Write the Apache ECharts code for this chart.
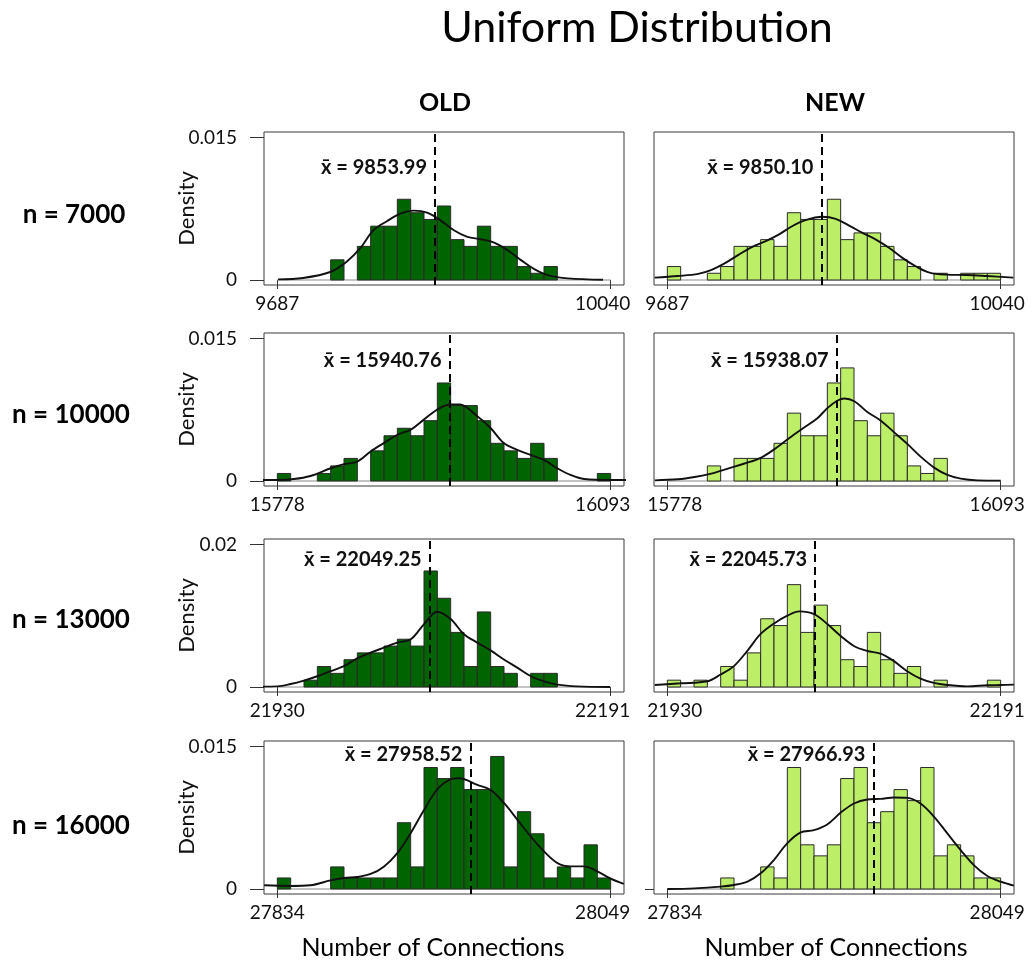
<!DOCTYPE html>
<html><head><meta charset="utf-8">
<script src="https://cdn.jsdelivr.net/npm/echarts@6/dist/echarts.min.js"></script>
<style>html,body{margin:0;padding:0;background:#fff}#c{width:1034px;height:967px}</style>
</head><body><div id="c"></div>
<script>
// ---------------- DATA ----------------
const chartTitle = 'Uniform Distribution';
const rowLabels = ['n = 7000', 'n = 10000', 'n = 13000', 'n = 16000'];
const colLabels = ['OLD', 'NEW'];
const xMinTicks = [9687, 15778, 21930, 27834];
const xMaxTicks = [10040, 16093, 22191, 28049];
const yTicks = [0.015, 0.015, 0.02, 0.015];
const sampleSize = 100;
const binCount = 25;

const oldCounts7000  = [0,0,0,0,3,0,5,8,8,12,10,9,11,6,5,8,5,5,2,1,2,0,0,0,0];
const newCounts7000  = [2,0,0,1,2,5,5,6,5,10,9,9,12,6,7,7,5,3,2,0,1,0,1,1,1];
const oldCounts10000 = [1,0,0,1,2,3,0,4,6,7,6,8,13,10,10,8,5,4,3,5,3,0,0,0,1];
const newCounts10000 = [0,0,0,2,0,3,3,3,5,9,6,6,13,15,8,6,9,6,2,1,3,0,0,0,0];
const oldCounts13000 = [0,0,1,3,2,4,5,5,6,7,6,17,13,8,3,11,3,2,0,2,2,0,0,0,0];
const newCounts13000 = [1,0,1,0,3,1,5,10,9,15,8,12,9,4,3,8,4,2,3,0,1,0,0,0,1];
const oldCounts16000 = [1,0,0,0,2,1,1,1,1,6,2,11,10,11,9,9,12,2,7,5,1,2,1,4,1];
const newCounts16000 = [0,0,0,0,1,0,0,2,1,11,4,3,4,10,11,6,7,9,8,11,3,4,3,1,1];

const oldMeans = [9853.99, 15940.76, 22049.25, 27958.52];
const newMeans = [9850.10, 15938.07, 22045.73, 27966.93];

const oldCurve7000 = [[9687.7,0.00007],[9714.3,0.00021],[9743.8,0.00087],[9760.4,0.00192],[9774.6,0.00332],[9788.8,0.00524],[9803.0,0.00618],[9817.2,0.00698],[9831.4,0.00730],[9845.6,0.00709],[9859.8,0.00628],[9874.0,0.00524],[9888.2,0.00454],[9902.4,0.00429],[9916.6,0.00394],[9930.8,0.00314],[9945.0,0.00209],[9959.1,0.00115],[9973.3,0.00052],[9994.6,0.00017],[10031.9,0.00003]];
const newCurve7000 = [[9673.5,0.00025],[9698.4,0.00042],[9719.7,0.00064],[9733.9,0.00106],[9748.1,0.00177],[9762.3,0.00265],[9776.5,0.00347],[9790.7,0.00407],[9804.9,0.00478],[9819.1,0.00566],[9833.3,0.00630],[9851.1,0.00666],[9865.3,0.00644],[9879.5,0.00573],[9893.7,0.00496],[9907.9,0.00425],[9922.1,0.00336],[9936.3,0.00230],[9950.5,0.00142],[9964.7,0.00078],[9982.4,0.00057],[10003.7,0.00053],[10025.1,0.00042],[10053.5,0.00025]];
const oldCurve10000 = [[15762.3,0.00011],[15778,0.00011],[15793.7,0.00021],[15809.3,0.00053],[15828.5,0.00134],[15841.0,0.00177],[15853.5,0.00205],[15866.1,0.00311],[15878.6,0.00399],[15891.5,0.00487],[15904.0,0.00540],[15916.5,0.00646],[15929.1,0.00752],[15941.6,0.00805],[15950.4,0.00805],[15967.0,0.00681],[15979.5,0.00558],[15992.0,0.00399],[16004.6,0.00328],[16017.1,0.00275],[16030.0,0.00222],[16042.5,0.00134],[16055.0,0.00064],[16067.9,0.00021],[16093,0.00011],[16110.2,0.00011]];
const newCurve10000 = [[15766.1,0.00007],[15788.1,0.00018],[15803.8,0.00042],[15819.5,0.00078],[15835.2,0.00131],[15850.9,0.00184],[15866.7,0.00247],[15882.4,0.00360],[15895.0,0.00466],[15907.6,0.00565],[15920.1,0.00664],[15929.5,0.00770],[15939.0,0.00847],[15945.3,0.00868],[15954.7,0.00840],[15967.3,0.00724],[15979.8,0.00635],[15992.4,0.00512],[16005.0,0.00388],[16017.6,0.00254],[16030.1,0.00141],[16042.7,0.00064],[16055.3,0.00025],[16071.0,0.00007],[16093,0.00004]];
const oldCurve13000 = [[21917.0,0.00005],[21930,0.00009],[21940.4,0.00042],[21950.8,0.00090],[21961.3,0.00151],[21971.7,0.00222],[21982.1,0.00293],[21992.5,0.00401],[22002.9,0.00481],[22013.4,0.00552],[22024.0,0.00623],[22034.5,0.00670],[22044.9,0.00883],[22055.3,0.01057],[22065.7,0.00953],[22076.1,0.00741],[22086.6,0.00623],[22097.0,0.00514],[22107.4,0.00387],[22118.1,0.00269],[22128.5,0.00151],[22138.9,0.00080],[22149.6,0.00033],[22164.5,0.00009],[22190.5,0.00000]];
const newCurve13000 = [[21920.1,0.00028],[21940.4,0.00052],[21961.3,0.00080],[21971.7,0.00175],[21982.1,0.00293],[21992.5,0.00505],[22002.9,0.00741],[22013.6,0.00892],[22024.0,0.01001],[22033.4,0.01062],[22044.9,0.01024],[22055.3,0.00883],[22065.7,0.00717],[22076.1,0.00576],[22086.6,0.00505],[22097.0,0.00467],[22107.4,0.00363],[22117.8,0.00222],[22128.2,0.00118],[22138.7,0.00057],[22149.1,0.00028],[22164.7,0.00009],[22180.6,0.00024],[22191,0.00028],[22201.4,0.00033]];
const oldCurve16000 = [[27825.5,0.00039],[27842.5,0.00032],[27855.3,0.00039],[27868.3,0.00091],[27877.1,0.00116],[27885.6,0.00126],[27894.2,0.00158],[27902.9,0.00238],[27911.4,0.00378],[27920.0,0.00588],[27928.7,0.00833],[27937.2,0.01050],[27945.8,0.01155],[27951.3,0.01166],[27963.0,0.01096],[27971.6,0.01043],[27980.3,0.00903],[27988.9,0.00728],[27997.4,0.00553],[28006.0,0.00396],[28014.7,0.00273],[28023.2,0.00238],[28031.7,0.00238],[28040.3,0.00186],[28049.0,0.00109],[28057.5,0.00053]];
const newCurve16000 = [[27834,0.0],[27851.5,0.00007],[27868.4,0.00025],[27876.9,0.00042],[27885.7,0.00077],[27894.2,0.00165],[27902.7,0.00305],[27911.3,0.00480],[27920.0,0.00595],[27928.6,0.00620],[27937.1,0.00679],[27945.9,0.00805],[27954.4,0.00900],[27963.0,0.00942],[27971.5,0.00949],[27980.2,0.00963],[27988.8,0.00959],[27997.3,0.00900],[28006.1,0.00760],[28014.6,0.00585],[28023.2,0.00410],[28031.7,0.00252],[28040.2,0.00140],[28049.0,0.00077],[28057.5,0.00035]];

const oldCounts = [oldCounts7000, oldCounts10000, oldCounts13000, oldCounts16000];
const newCounts = [newCounts7000, newCounts10000, newCounts13000, newCounts16000];
const oldCurves = [oldCurve7000, oldCurve10000, oldCurve13000, oldCurve16000];
const newCurves = [newCurve7000, newCurve10000, newCurve13000, newCurve16000];

// ---------------- LAYOUT ----------------
const FONT = 'Lato';
const colLeft = [264, 654];
const boxW = 360;
const rowTop = [132, 333, 539, 741];
const boxH = 153;
const zeroFromTop = 148;     // px from box top to density 0
const tickPx = 142.5;        // px from 0 to the labelled tick
const labelYs = [0.0118, 0.0127, 0.0179, 0.0142]; // mean label height in data units
const colors = ['#006400', '#BCEE68'];
// horizontal nudges of end labels (R keeps them inside the figure region)
const maxLabelPad = [16, 7];   // right padding for the right-hand label, OLD / NEW

const grids = [], xAxes = [], yAxes = [], series = [];
let idx = 0;
for (let r = 0; r < 4; r++) {
  const xmin = xMinTicks[r], xmax = xMaxTicks[r];
  const span = xmax - xmin;
  const binW = span / binCount;
  const perPx = yTicks[r] / tickPx;
  const yMin = -(boxH - zeroFromTop) * perPx;
  const yMax = zeroFromTop * perPx;
  for (let c = 0; c < 2; c++) {
    const isOld = c === 0;
    const leftPad = (!isOld && String(xmin).length > 4) ? 15 : 0;
    grids.push({left: colLeft[c], top: rowTop[r], width: boxW, height: boxH, show: true,
      borderColor: '#3a3a3a', borderWidth: 1, backgroundColor: 'transparent', containLabel: false});
    xAxes.push({type: 'value', gridIndex: idx, min: xmin - 0.04 * span, max: xmax + 0.04 * span,
      axisLine: {show: false}, splitLine: {show: false},
      axisTick: {show: true, customValues: [xmin, xmax], length: 9, lineStyle: {color: '#333'}},
      axisLabel: {show: true, customValues: [xmin, xmax], margin: 9, fontSize: 19, fontFamily: FONT, color: '#111',
        formatter: v => (v === xmax ? '{r|' + v + '}' : (leftPad ? '{l|' + v + '}' : String(v))),
        rich: {
          r: {fontSize: 19, fontFamily: FONT, color: '#111', padding: [0, maxLabelPad[c], 0, 0]},
          l: {fontSize: 19, fontFamily: FONT, color: '#111', padding: [0, 0, 0, leftPad]}
        }}});
    yAxes.push({type: 'value', gridIndex: idx, min: yMin, max: yMax,
      axisLine: {show: false}, splitLine: {show: false},
      axisTick: {show: isOld || r === 3, customValues: isOld ? [0, yTicks[r]] : [0], length: isOld ? 14 : 9, lineStyle: {color: '#333'}},
      axisLabel: {show: isOld, customValues: [0, yTicks[r]], margin: 27, fontSize: 19, fontFamily: FONT, color: '#111',
        formatter: v => String(v)},
      name: isOld ? 'Density' : '', nameLocation: 'middle', nameGap: 66, nameMoveOverlap: false,
      nameTextStyle: {fontSize: 22, fontFamily: FONT, color: '#111'}});
    const counts = isOld ? oldCounts[r] : newCounts[r];
    const densPerCount = 1 / (sampleSize * binW);
    const bars = [];
    counts.forEach((n, i) => { if (n > 0) bars.push([xmin + i * binW, xmin + (i + 1) * binW, n * densPerCount]); });
    const fill = colors[c];
    series.push({type: 'custom', xAxisIndex: idx, yAxisIndex: idx, z: 2, data: bars,
      encode: {x: [0, 1], y: 2},
      renderItem: (params, api) => {
        const p0 = api.coord([api.value(0), api.value(2)]);
        const p1 = api.coord([api.value(1), 0]);
        return {type: 'rect', shape: {x: p0[0], y: p0[1], width: p1[0] - p0[0], height: p1[1] - p0[1]},
          style: {fill: fill, stroke: '#2a2a2a', lineWidth: 1}};
      }});
    series.push({type: 'line', xAxisIndex: idx, yAxisIndex: idx, z: 1, symbol: 'none', silent: true,
      data: [[xmin, 0], [xmax, 0]], lineStyle: {color: '#8a8a8a', width: 1}});
    const mean = isOld ? oldMeans[r] : newMeans[r];
    series.push({type: 'line', xAxisIndex: idx, yAxisIndex: idx, z: 4, symbol: 'none', smooth: 0.35, clip: true,
      data: isOld ? oldCurves[r] : newCurves[r], lineStyle: {color: '#111', width: 1.9},
      markLine: {silent: true, symbol: 'none', animation: false,
        lineStyle: {type: [8, 5], color: '#000', width: 2}, label: {show: false},
        data: [{xAxis: mean}]},
      markPoint: {silent: true, animation: false, symbol: 'circle', symbolSize: 0,
        data: [{coord: [mean, labelYs[r]]}],
        label: {show: true, position: 'left', distance: 8, color: '#111', fontFamily: FONT, fontWeight: 'bold', fontSize: 20,
          formatter: () => 'x\u0304 = ' + mean.toFixed(2)}}});
    idx++;
  }
}

const txt = (text, x, y, size, weight) => ({type: 'text', x: x, y: y, silent: true,
  style: {text: text, fontSize: size, fontFamily: FONT, fontWeight: weight || 'normal', fill: '#000', align: 'center', verticalAlign: 'middle'}});
const graphic = [
  txt(chartTitle, 637, 28, 43),
  txt(colLabels[0], 445, 103, 25, 'bold'),
  txt(colLabels[1], 835, 103, 25, 'bold'),
  txt(rowLabels[0], 74, 215, 26, 'bold'),
  txt(rowLabels[1], 71, 415, 26, 'bold'),
  txt(rowLabels[2], 71, 620, 26, 'bold'),
  txt(rowLabels[3], 71, 826, 26, 'bold'),
  txt('Number of Connections', 433, 948, 25),
  txt('Number of Connections', 836, 948, 25)
];

const chart = echarts.init(document.getElementById('c'), null, {renderer: 'canvas'});
chart.setOption({animation: false, backgroundColor: '#fff', grid: grids, xAxis: xAxes, yAxis: yAxes, series: series, graphic: graphic});
</script></body></html>
